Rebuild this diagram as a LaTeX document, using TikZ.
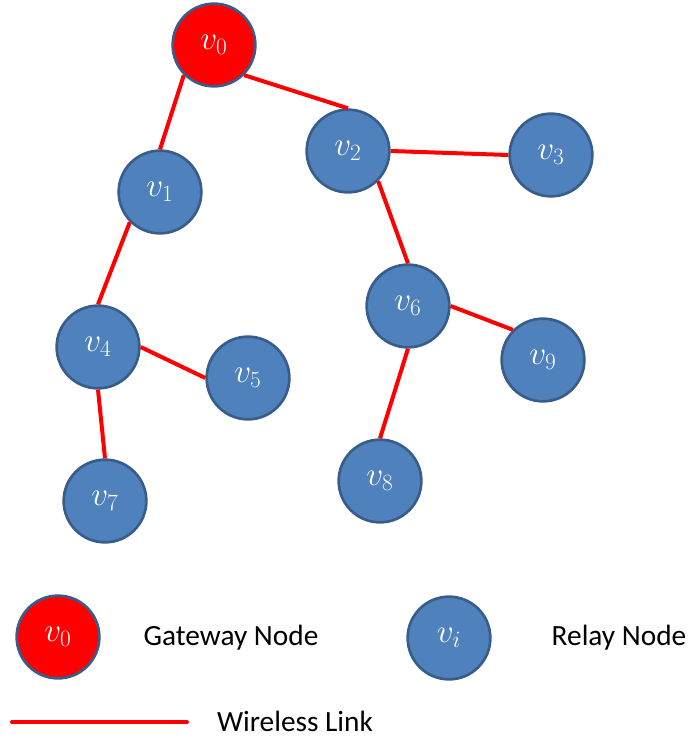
\documentclass[tikz,border=0pt]{standalone}
\usepackage{fix-cm}
\usepackage{fontspec}
\setmainfont{Carlito}
\definecolor{relayfill}{HTML}{4F81BD}
\definecolor{relayedge}{HTML}{385D8A}
\definecolor{linkred}{HTML}{FF0000}
\begin{document}
\begin{tikzpicture}[x=0.75pt,y=-0.75pt,
  relay/.style={circle,draw=relayedge,line width=2pt,fill=relayfill,inner sep=0pt,minimum size=62pt,text=white,font=\fontsize{25}{28}\selectfont},
  gateway/.style={relay,fill=linkred},
  link/.style={draw=linkred,line width=3pt},
  legendtext/.style={font=\fontsize{22}{26}\selectfont,text=black}]
\useasboundingbox (0,0) rectangle (687,738);
\node[gateway] (v0) at (214,45) {$v_0$};
\node[relay] (v1) at (160,192) {$v_1$};
\node[relay] (v2) at (348,151) {$v_2$};
\node[relay] (v3) at (551,155) {$v_3$};
\node[relay] (v4) at (98,347) {$v_4$};
\node[relay] (v5) at (248,378) {$v_5$};
\node[relay] (v6) at (408,306) {$v_6$};
\node[relay] (v7) at (105,501) {$v_7$};
\node[relay] (v8) at (380,481) {$v_8$};
\node[relay] (v9) at (543,360) {$v_9$};
\draw[link] (v0.225) -- (v1.north);
\draw[link] (v0.315) -- (v2.north);
\draw[link] (v2.east) -- (v3.west);
\draw[link] (v2.315) -- (v6.north);
\draw[link] (v1.225) -- (v4.north);
\draw[link] (v4.east) -- (v5.west);
\draw[link] (v4.south) -- (v7.north);
\draw[link] (v6.east) -- (v9.135);
\draw[link] (v6.south) -- (v8.north);
% legend
\node[gateway] (lv0) at (58,637) {$v_0$};
\node[legendtext] (lgw) at (231,638) {Gateway Node};
\node[relay] (lvi) at (449,638) {$v_i$};
\node[legendtext] (lrl) at (619,638) {Relay Node};
\coordinate (la) at (12,722);
\coordinate (lb) at (187,722);
\draw[link,line cap=round] (la) -- (lb);
\node[legendtext] (lwl) at (295,721) {Wireless Link};
\end{tikzpicture}
\end{document}
